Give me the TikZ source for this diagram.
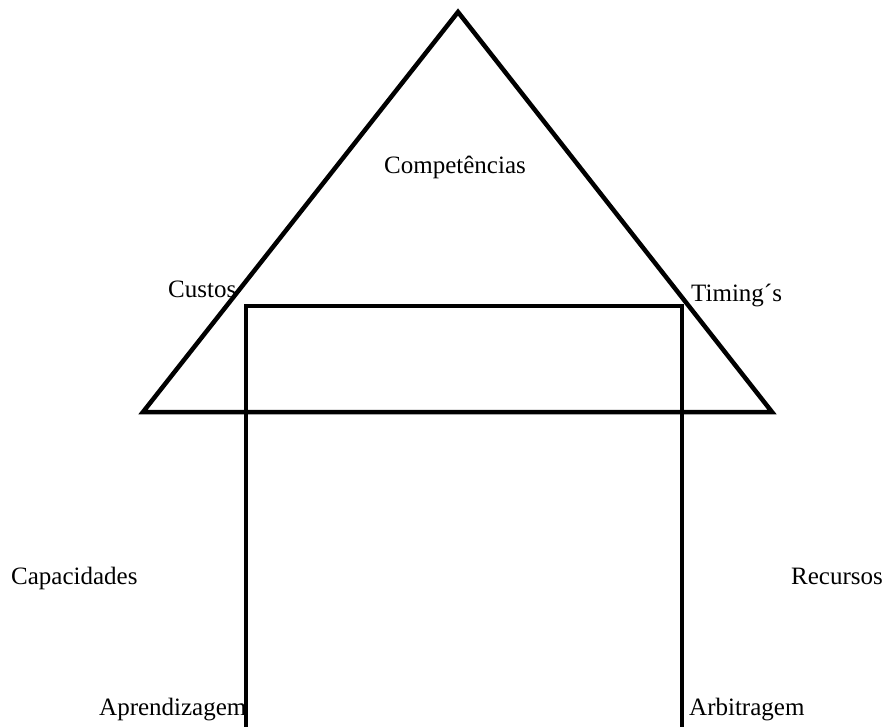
\documentclass[tikz,border=0pt]{standalone}
\usepackage{fontspec}
\setmainfont{Liberation Serif}
\begin{document}
\begin{tikzpicture}[x=1pt,y=-1pt,
  lbl/.style={inner sep=0pt,font=\fontsize{25}{29}\selectfont,anchor=base west},
  shape line/.style={draw=black,line width=4.5pt,miter limit=10}]
\useasboundingbox (0,0) rectangle (889,726);
\clip (0,0) rectangle (889,726);
% triangle
\coordinate (apex) at (458,12);
\coordinate (bl) at (143,412);
\coordinate (br) at (772,412);
\draw[shape line] (apex) -- (bl) -- (br) -- cycle;
% rectangle
\coordinate (rtl) at (246,306);
\coordinate (rbr) at (682,729);
\draw[shape line] (rtl) rectangle (rbr);
% labels
\node[lbl] (comp) at (384,173) {Competências};
\node[lbl] (custos) at (168,297) {Custos};
\node[lbl] (timing) at (691,301) {Timing´s};
\node[lbl] (cap) at (11,584) {Capacidades};
\node[lbl] (rec) at (791,584) {Recursos};
\node[lbl] (apr) at (99,715) {Aprendizagem};
\node[lbl] (arb) at (689,715) {Arbitragem};
\end{tikzpicture}
\end{document}
